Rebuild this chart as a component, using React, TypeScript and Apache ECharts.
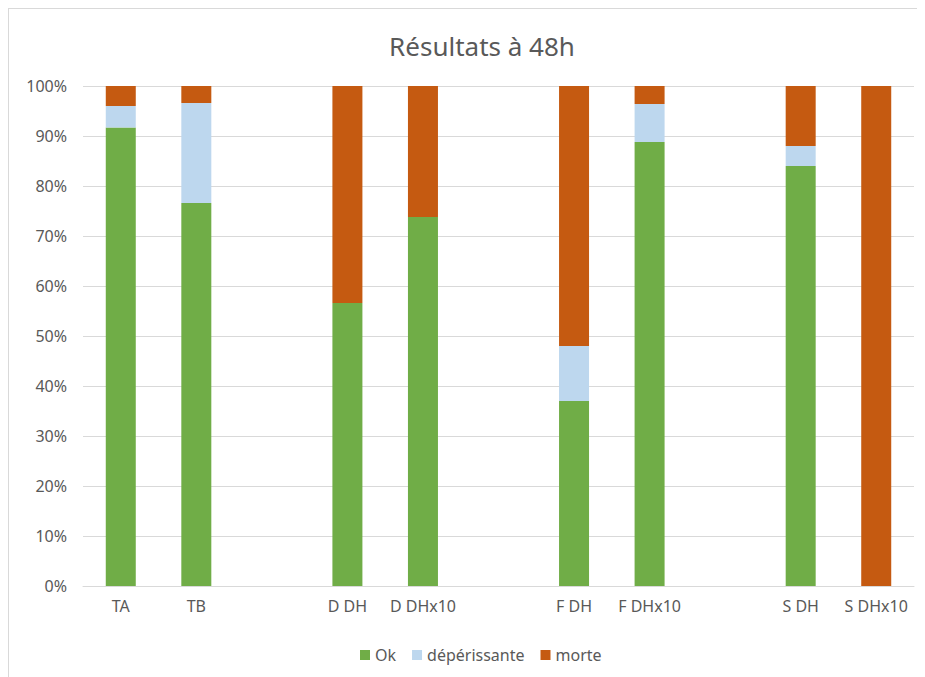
import React, { useEffect, useRef } from "react";
import * as echarts from "echarts";

const categories = ["TA", "TB", " ", "D DH", "D DHx10", "  ", "F DH", "F DHx10", "   ", "S DH", "S DHx10"];
const okValues = [91.7, 76.6, null, 56.6, 73.8, null, 37.0, 88.8, null, 84.0, 0];
const deperissanteValues = [4.3, 20.0, null, 0, 0, null, 11.0, 7.6, null, 4.0, 0];
const morteValues = [4.0, 3.4, null, 43.4, 26.2, null, 52.0, 3.6, null, 12.0, 100];
const yTicks = [0, 10, 20, 30, 40, 50, 60, 70, 80, 90, 100];

const FONT = "'Noto Sans', 'Open Sans', sans-serif";
const TEXT = "#595959";

export default function App() {
  const ref = useRef<HTMLDivElement>(null);
  useEffect(() => {
    if (!ref.current) return;
    const chart = echarts.init(ref.current, null, { renderer: "svg" });
    const seriesBase = { type: "bar", stack: "total", barWidth: 30 };
    chart.setOption({
      animation: false,
      textStyle: { fontFamily: FONT },
      title: {
        text: "Résultats à 48h",
        left: 468,
        textAlign: "center",
        top: 19,
        textStyle: { fontFamily: FONT, fontSize: 26, fontWeight: "normal", color: TEXT },
      },
      legend: {
        left: 346,
        top: 633,
        itemWidth: 10,
        itemHeight: 10,
        itemGap: 16,
        icon: "rect",
        textStyle: { fontFamily: FONT, fontSize: 16, color: TEXT },
        data: ["Ok", "dépérissante", "morte"],
      },
      grid: { left: 74, top: 77, width: 831, height: 500 },
      xAxis: {
        type: "category",
        data: categories,
        axisTick: { show: false },
        axisLine: { lineStyle: { color: "#d9d9d9" } },
        axisLabel: { color: TEXT, fontSize: 16, fontFamily: FONT, margin: 12, interval: 0 },
      },
      yAxis: {
        type: "value",
        min: yTicks[0],
        max: yTicks[yTicks.length - 1],
        interval: 10,
        axisLine: { show: false },
        axisTick: { show: false },
        splitLine: { lineStyle: { color: "#d9d9d9" } },
        axisLabel: { color: TEXT, fontSize: 16, fontFamily: FONT, margin: 16, formatter: "{value}%" },
      },
      series: [
        { ...seriesBase, name: "Ok", data: okValues, itemStyle: { color: "#70ad47" } },
        { ...seriesBase, name: "dépérissante", data: deperissanteValues, itemStyle: { color: "#bdd7ee" } },
        { ...seriesBase, name: "morte", data: morteValues, itemStyle: { color: "#c55a11" } },
      ],
    });
    return () => chart.dispose();
  }, []);
  return (
    <div
      ref={ref}
      style={{
        width: 917,
        height: 669,
        boxSizing: "border-box",
        borderLeft: "1px solid #d9d9d9",
        borderTop: "1px solid #d9d9d9",
        background: "#fff",
      }}
    />
  );
}
